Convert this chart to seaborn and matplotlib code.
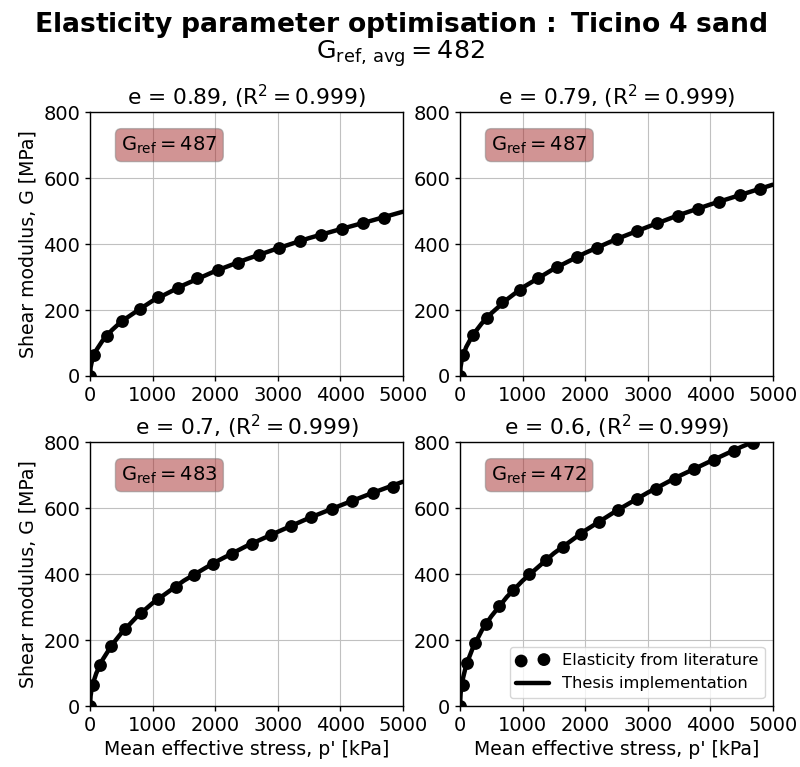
import matplotlib
matplotlib.use("Agg")
import matplotlib.pyplot as plt
import seaborn as sns
import pandas as pd

# Void ratios, fit quality and reference stiffness per panel
void_ratios = [0.89, 0.79, 0.7, 0.6]
r_squared = [0.999, 0.999, 0.999, 0.999]
g_ref = [487, 487, 483, 472]
g_ref_avg = 482

# Literature elasticity points (p' in kPa, G in MPa)
lit_p_089 = [0, 64, 266, 506, 798, 1091, 1400, 1714, 2039, 2369, 2698, 3024, 3354, 3689, 4030, 4366, 4700]
lit_g_089 = [0, 63, 120, 166, 203, 238, 267, 296, 321, 344, 367, 389, 409, 427, 446, 463, 480]

lit_p_079 = [0, 53, 203, 426, 676, 958, 1251, 1555, 1863, 2183, 2502, 2832, 3152, 3477, 3807, 4142, 4473, 4803]
lit_g_079 = [0, 65, 124, 176, 223, 261, 296, 329, 361, 389, 415, 440, 463, 485, 507, 528, 548, 567]

lit_p_070 = [0, 53, 160, 335, 559, 809, 1081, 1368, 1661, 1959, 2268, 2582, 2891, 3215, 3535, 3865, 4195, 4525, 4844]
lit_g_070 = [0, 65, 125, 182, 235, 281, 323, 361, 397, 430, 461, 491, 518, 547, 572, 596, 622, 645, 665]

lit_p_060 = [0, 43, 106, 240, 410, 623, 852, 1102, 1368, 1640, 1927, 2220, 2518, 2822, 3125, 3434, 3742, 4057, 4375, 4684]
lit_g_060 = [0, 65, 131, 192, 250, 303, 351, 399, 442, 483, 521, 559, 593, 627, 658, 689, 718, 746, 774, 799]

# Thesis implementation curves
model_p = [0, 10, 25, 50, 100, 200, 350, 500, 750, 1000, 1500, 2000, 2500, 3000, 3500, 4000, 4500, 5000]
model_g_089 = [0, 26, 40, 56, 78, 107, 139, 165, 197, 228, 276, 318, 354, 387, 418, 445, 471, 498]
model_g_079 = [0, 28, 45, 63, 88, 123, 160, 190, 232, 268, 325, 373, 415, 452, 488, 520, 550, 580]
model_g_070 = [0, 31, 50, 70, 99, 140, 185, 221, 271, 312, 380, 436, 485, 528, 570, 608, 645, 680]
model_g_060 = [0, 38, 60, 86, 125, 174, 230, 272, 331, 380, 463, 532, 592, 647, 697, 742, 786, 825]

lit_p = [lit_p_089, lit_p_079, lit_p_070, lit_p_060]
lit_g = [lit_g_089, lit_g_079, lit_g_070, lit_g_060]
model_g = [model_g_089, model_g_079, model_g_070, model_g_060]

sns.set_style("ticks", {"axes.grid": True, "grid.color": "#c0c0c0",
                        "axes.edgecolor": "black", "xtick.direction": "out",
                        "ytick.direction": "out", "text.color": "black",
                        "axes.labelcolor": "black", "xtick.color": "black",
                        "ytick.color": "black"})
plt.rcParams["font.family"] = ["DejaVu Sans"]
plt.rcParams["mathtext.default"] = "regular"
plt.rcParams["text.color"] = "black"
plt.rcParams["grid.linewidth"] = 0.8
plt.rcParams["xtick.major.size"] = 3.5
plt.rcParams["ytick.major.size"] = 3.5

fig = plt.figure(figsize=(8.0, 7.67), dpi=100)
lefts = [0.1125, 0.575]
bottoms = [0.5098, 0.0795]
w, h = 0.391, 0.344

axes = []
for i in range(4):
    r, c = divmod(i, 2)
    ax = fig.add_axes([lefts[c], bottoms[r], w, h])
    axes.append(ax)
    df_lit = pd.DataFrame({"p": lit_p[i], "G": lit_g[i]})
    df_mod = pd.DataFrame({"p": model_p, "G": model_g[i]})
    sns.scatterplot(data=df_lit, x="p", y="G", ax=ax, color="black", s=85,
                    edgecolor="black", linewidth=0, label="Elasticity from literature",
                    zorder=3)
    sns.lineplot(data=df_mod, x="p", y="G", ax=ax, color="black", linewidth=3.2,
                 label="Thesis implementation", zorder=4, sort=False)
    ax.set_xlim(0, 5000)
    ax.set_ylim(0, 800)
    ax.set_xticks([0, 1000, 2000, 3000, 4000, 5000])
    ax.set_yticks([0, 200, 400, 600, 800])
    ax.tick_params(labelsize=14, colors="black", width=1)
    for s in ax.spines.values():
        s.set_color("black")
        s.set_linewidth(1)
    ax.set_title(f"e = {void_ratios[i]}, ($R^2 = {r_squared[i]}$)", fontsize=15.7,
                 pad=5, color="black")
    ax.text(0.1, 0.875, f"$G_{{ref}} = {g_ref[i]}$", transform=ax.transAxes,
            fontsize=14, ha="left", va="center", zorder=5, color="black",
            bbox=dict(boxstyle="round,pad=0.3", facecolor="brown", alpha=0.5,
                      edgecolor="gray"))
    ax.set_xlabel("Mean effective stress, p' [kPa]" if r == 1 else "", fontsize=13.6,
                  color="black")
    ax.set_ylabel("Shear modulus, G [MPa]" if c == 0 else "", fontsize=13.6,
                  color="black")
    if i == 3:
        handles, labels = ax.get_legend_handles_labels()
        leg = ax.legend(handles, labels, loc="lower right", fontsize=11.7,
                        scatterpoints=2, framealpha=0.8)
        for t in leg.get_texts():
            t.set_color("black")
    else:
        ax.get_legend().remove()

fig.text(0.5, 0.968,
         r"$\bf{Elasticity\ parameter\ optimisation\,:\ Ticino\ 4\ sand}$",
         ha="center", va="center", fontsize=19.2, color="black")
fig.text(0.5, 0.930, f"$G_{{ref,\\,avg}} = {g_ref_avg}$", ha="center", va="center",
         fontsize=18.3, color="black")

fig.savefig("out.png", dpi=100)
